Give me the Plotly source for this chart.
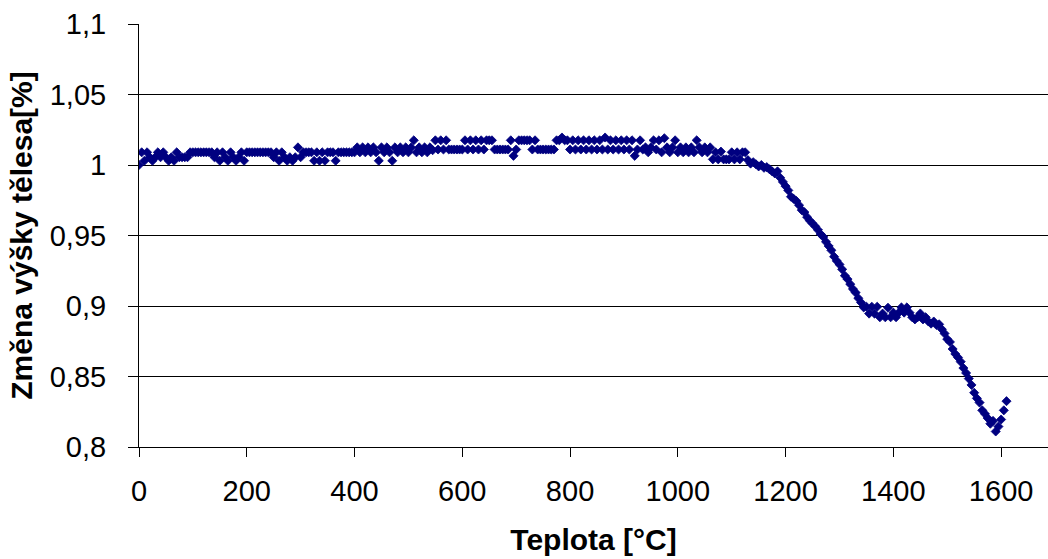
import plotly.graph_objects as go

# Temperature [°C]
teplota = [
    0, 5, 10, 15, 20, 25, 30, 35, 40, 45,
    50, 55, 60, 65, 70, 75, 80, 85, 90, 95,
    100, 105, 110, 115, 120, 125, 130, 135, 140, 145,
    150, 155, 160, 165, 170, 175, 180, 185, 190, 195,
    200, 205, 210, 215, 220, 225, 230, 235, 240, 245,
    250, 255, 260, 265, 270, 275, 280, 285, 290, 295,
    300, 305, 310, 315, 320, 325, 330, 335, 340, 345,
    350, 355, 360, 365, 370, 375, 380, 385, 390, 395,
    400, 405, 410, 415, 420, 425, 430, 435, 440, 445,
    450, 455, 460, 465, 470, 475, 480, 485, 490, 495,
    500, 505, 510, 515, 520, 525, 530, 535, 540, 545,
    550, 555, 560, 565, 570, 575, 580, 585, 590, 595,
    600, 605, 610, 615, 620, 625, 630, 635, 640, 645,
    650, 655, 660, 665, 670, 675, 680, 685, 690, 695,
    700, 705, 710, 715, 720, 725, 730, 735, 740, 745,
    750, 755, 760, 765, 770, 775, 780, 785, 790, 795,
    800, 805, 810, 815, 820, 825, 830, 835, 840, 845,
    850, 855, 860, 865, 870, 875, 880, 885, 890, 895,
    900, 905, 910, 915, 920, 925, 930, 935, 940, 945,
    950, 955, 960, 965, 970, 975, 980, 985, 990, 995,
    1000, 1005, 1010, 1015, 1020, 1025, 1030, 1035, 1040, 1045,
    1050, 1055, 1060, 1065, 1070, 1075, 1080, 1085, 1090, 1095,
    1100, 1105, 1110, 1115, 1120, 1125, 1130, 1135, 1140, 1145,
    1150, 1155, 1160, 1165, 1170, 1175, 1180, 1185, 1190, 1195,
    1200, 1205, 1210, 1215, 1220, 1225, 1230, 1235, 1240, 1245,
    1250, 1255, 1260, 1265, 1270, 1275, 1280, 1285, 1290, 1295,
    1300, 1305, 1310, 1315, 1320, 1325, 1330, 1335, 1340, 1345,
    1350, 1355, 1360, 1365, 1370, 1375, 1380, 1385, 1390, 1395,
    1400, 1405, 1410, 1415, 1420, 1425, 1430, 1435, 1440, 1445,
    1450, 1455, 1460, 1465, 1470, 1475, 1480, 1485, 1490, 1495,
    1500, 1505, 1510, 1515, 1520, 1525, 1530, 1535, 1540, 1545,
    1550, 1555, 1560, 1565, 1570, 1575, 1580, 1585, 1590, 1595,
    1600, 1605, 1610,
]

# Relative change of sample height
zmena_vysky = [
    1.000, 1.009, 1.003, 1.009, 1.0055, 1.003, 1.0055, 1.009, 1.0055, 1.009,
    1.0055, 1.003, 1.0055, 1.003, 1.009, 1.0055, 1.0055, 1.0055, 1.0055, 1.009,
    1.009, 1.009, 1.009, 1.009, 1.009, 1.009, 1.009, 1.009, 1.0055, 1.009,
    1.003, 1.009, 1.0055, 1.003, 1.009, 1.0055, 1.003, 1.0055, 1.009, 1.003,
    1.009, 1.009, 1.009, 1.009, 1.009, 1.009, 1.009, 1.009, 1.009, 1.009,
    1.0055, 1.009, 1.003, 1.009, 1.0055, 1.003, 1.0055, 1.003, 1.0055, 1.0125,
    1.0055, 1.009, 1.009, 1.009, 1.009, 1.003, 1.009, 1.003, 1.009, 1.003,
    1.009, 1.009, 1.009, 1.003, 1.009, 1.009, 1.009, 1.009, 1.009, 1.009,
    1.009, 1.0125, 1.009, 1.0125, 1.009, 1.0125, 1.009, 1.0125, 1.009, 1.003,
    1.0125, 1.009, 1.0125, 1.009, 1.003, 1.0125, 1.009, 1.0125, 1.009, 1.0125,
    1.009, 1.0125, 1.0175, 1.009, 1.0125, 1.009, 1.0125, 1.009, 1.0125, 1.0105,
    1.0175, 1.011, 1.0175, 1.011, 1.0175, 1.011, 1.011, 1.011, 1.011, 1.011,
    1.011, 1.0175, 1.011, 1.0175, 1.011, 1.0175, 1.011, 1.0175, 1.011, 1.0175,
    1.0175, 1.0175, 1.011, 1.011, 1.011, 1.011, 1.011, 1.011, 1.0175, 1.0065,
    1.011, 1.0175, 1.0175, 1.0175, 1.0175, 1.0175, 1.011, 1.0175, 1.011, 1.011,
    1.011, 1.011, 1.011, 1.011, 1.011, 1.0175, 1.0175, 1.0195, 1.0175, 1.0175,
    1.011, 1.0175, 1.011, 1.0175, 1.011, 1.0175, 1.011, 1.0175, 1.011, 1.0175,
    1.011, 1.0175, 1.011, 1.0195, 1.011, 1.0175, 1.011, 1.0175, 1.011, 1.0175,
    1.011, 1.0175, 1.011, 1.0175, 1.0065, 1.011, 1.0175, 1.011, 1.0125, 1.009,
    1.0125, 1.0175, 1.011, 1.0175, 1.009, 1.019, 1.0125, 1.009, 1.0125, 1.0175,
    1.009, 1.0125, 1.009, 1.0125, 1.009, 1.0125, 1.009, 1.0175, 1.0125, 1.009,
    1.0125, 1.009, 1.0125, 1.004, 1.009, 1.004, 1.0095, 1.004, 1.004, 1.004,
    1.009, 1.004, 1.009, 1.004, 1.009, 1.009, 1.0035, 1.001, 1.002, 1.0005,
    0.999, 1.000, 0.998, 0.9985, 0.997, 0.9955, 0.994, 0.9955, 0.991, 0.988,
    0.985, 0.982, 0.9775, 0.976, 0.9745, 0.9715, 0.968, 0.9665, 0.963, 0.9605,
    0.9585, 0.9565, 0.954, 0.951, 0.949, 0.9455, 0.9425, 0.9395, 0.935, 0.932,
    0.9295, 0.926, 0.9215, 0.919, 0.9155, 0.912, 0.9095, 0.9055, 0.9025, 0.899,
    0.8995, 0.8946, 0.8995, 0.8946, 0.8995, 0.892, 0.8946, 0.892, 0.8988, 0.892,
    0.8953, 0.892, 0.8953, 0.899, 0.8953, 0.899, 0.8953, 0.892, 0.8905, 0.892,
    0.8947, 0.8905, 0.892, 0.889, 0.8875, 0.889, 0.8865, 0.887, 0.8835, 0.8805,
    0.8765, 0.8745, 0.8695, 0.866, 0.8635, 0.8605, 0.856, 0.8525, 0.8485, 0.844,
    0.8385, 0.8345, 0.8315, 0.826, 0.8235, 0.8205, 0.8165, 0.8185, 0.811, 0.8145,
    0.8195, 0.826, 0.8325,
]

x_tick_vals = [0, 200, 400, 600, 800, 1000, 1200, 1400, 1600]
x_tick_text = ["0", "200", "400", "600", "800", "1000", "1200", "1400", "1600"]
y_tick_vals = [0.8, 0.85, 0.9, 0.95, 1.0, 1.05, 1.1]
y_tick_text = ["0,8", "0,85", "0,9", "0,95", "1", "1,05", "1,1"]

assert len(teplota) == len(zmena_vysky)

FONT = "Liberation Sans, Arial, sans-serif"

fig = go.Figure()
fig.add_trace(go.Scatter(
    x=teplota, y=zmena_vysky, mode="markers",
    marker=dict(symbol="diamond", size=7, color="#000080",
                line=dict(width=0.8, color="#000080")),
    showlegend=False, hoverinfo="x+y",
))

fig.update_layout(
    width=1048, height=559,
    margin=dict(l=139, r=0, t=24, b=112),
    plot_bgcolor="white", paper_bgcolor="white",
    font=dict(family=FONT, color="black"),
    showlegend=False,
    xaxis=dict(
        range=[0, 1687], tickvals=x_tick_vals, ticktext=x_tick_text,
        ticks="outside", ticklen=9, tickwidth=1, tickcolor="black",
        showline=True, linecolor="black", linewidth=1,
        showgrid=False, zeroline=False,
        tickfont=dict(size=29, family=FONT, color="black"),
        ticklabelstandoff=9,
        title=dict(text="<b>Teplota [°C]</b>", font=dict(size=30, family=FONT, color="black"),
                   standoff=23),
    ),
    yaxis=dict(
        range=[0.8, 1.1], tickvals=y_tick_vals, ticktext=y_tick_text,
        ticks="outside", ticklen=10, tickwidth=1, tickcolor="black",
        showline=True, linecolor="black", linewidth=1,
        showgrid=True, gridcolor="black", gridwidth=1,
        zeroline=False,
        tickfont=dict(size=29, family=FONT, color="black"),
        ticklabelstandoff=16,
        title=dict(text="<b>Změna výšky tělesa[%]</b>", font=dict(size=30, family=FONT, color="black"),
                   standoff=8),
    ),
)

fig.write_html("out.html")
